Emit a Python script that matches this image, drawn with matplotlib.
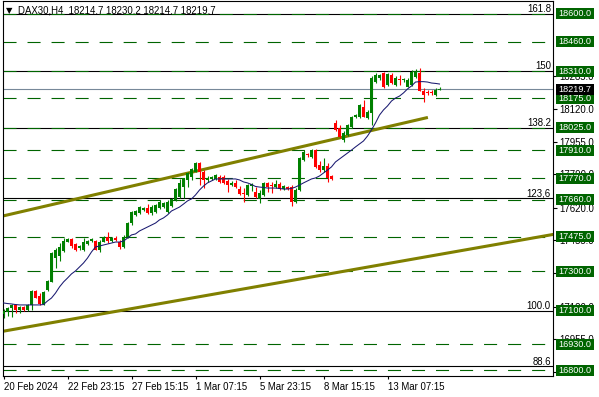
import matplotlib
matplotlib.use("Agg")
import matplotlib.pyplot as plt
import matplotlib.transforms as mtransforms
from matplotlib.patches import Rectangle
import numpy as np

plt.rcParams['font.family'] = ['Liberation Sans', 'DejaVu Sans']
plt.rcParams['lines.scale_dashes'] = False

# DAX30 H4 candles, bar 0 = 20 Feb 2024
opens = [17083, 17095, 17115, 17129, 17103, 17119, 17103, 17129, 17200, 17176,
         17132, 17205, 17247, 17366, 17376, 17402, 17449, 17462, 17436, 17418,
         17407, 17437, 17452, 17454, 17407, 17449, 17473, 17452, 17465, 17447,
         17422, 17473, 17543, 17584, 17595, 17609, 17621, 17594, 17600, 17619,
         17626, 17600, 17629, 17660, 17676, 17725, 17761, 17777, 17803, 17847,
         17801, 17761, 17766, 17766, 17777, 17776, 17756, 17735, 17747, 17717,
         17697, 17685, 17730, 17702, 17663, 17685, 17744, 17733, 17727, 17739,
         17714, 17727, 17725, 17651, 17710, 17862, 17892, 17879, 17912, 17837,
         17811, 17832, 17781, 18049, 18024, 17963, 17988, 18029, 18079, 18079,
         18131, 18074, 18098, 18258, 18275, 18300, 18241, 18292, 18241, 18269,
         18264, 18232, 18241, 18280, 18303, 18212, 18208, 18206, 18190, 18214.7]
highs = [17108, 17120, 17132, 17134, 17124, 17124, 17134, 17205, 17205, 17189,
         17200, 17255, 17397, 17417, 17442, 17467, 17467, 17467, 17442, 17432,
         17467, 17457, 17466, 17457, 17457, 17478, 17498, 17467, 17478, 17457,
         17483, 17548, 17604, 17609, 17629, 17624, 17639, 17634, 17639, 17660,
         17650, 17660, 17670, 17720, 17766, 17771, 17801, 17821, 17852, 17852,
         17811, 17781, 17781, 17791, 17786, 17786, 17766, 17756, 17761, 17730,
         17720, 17741, 17746, 17727, 17710, 17752, 17752, 17752, 17761, 17752,
         17735, 17730, 17735, 17720, 17877, 17912, 17897, 17918, 17918, 17857,
         17872, 17847, 17786, 18064, 18039, 18009, 18044, 18084, 18094, 18145,
         18165, 18115, 18287, 18302, 18297, 18307, 18302, 18302, 18287, 18292,
         18276, 18276, 18317, 18322, 18327, 18226, 18216, 18216, 18226, 18230.2]
lows = [17063, 17075, 17070, 17088, 17088, 17098, 17098, 17103, 17164, 17129,
        17129, 17200, 17245, 17316, 17351, 17397, 17447, 17417, 17404, 17407,
        17402, 17432, 17449, 17407, 17397, 17447, 17442, 17447, 17452, 17412,
        17417, 17467, 17533, 17579, 17589, 17604, 17589, 17584, 17594, 17614,
        17619, 17594, 17624, 17652, 17670, 17670, 17725, 17761, 17801, 17735,
        17720, 17751, 17761, 17761, 17746, 17741, 17702, 17730, 17720, 17685,
        17651, 17680, 17705, 17668, 17643, 17681, 17702, 17697, 17719, 17710,
        17710, 17710, 17629, 17644, 17705, 17857, 17877, 17872, 17821, 17801,
        17801, 17751, 17761, 18009, 17973, 17953, 17983, 18024, 18074, 18074,
        18077, 18069, 18039, 18251, 18266, 18226, 18236, 18246, 18236, 18241,
        18256, 18231, 18236, 18276, 18211, 18157, 18190, 18190, 18185, 18214.7]
closes = [17098, 17115, 17129, 17103, 17119, 17103, 17129, 17200, 17166, 17132,
          17196, 17250, 17390, 17407, 17422, 17452, 17462, 17429, 17407, 17427,
          17449, 17452, 17462, 17407, 17449, 17471, 17452, 17465, 17455, 17422,
          17474, 17543, 17599, 17604, 17622, 17619, 17595, 17626, 17634, 17651,
          17644, 17651, 17665, 17715, 17746, 17771, 17796, 17816, 17847, 17801,
          17761, 17771, 17776, 17786, 17752, 17746, 17735, 17747, 17727, 17690,
          17692, 17735, 17741, 17676, 17697, 17744, 17727, 17728, 17739, 17714,
          17732, 17714, 17651, 17710, 17870, 17902, 17885, 17912, 17828, 17811,
          17832, 17771, 17764, 18014, 17978, 17998, 18039, 18079, 18089, 18140,
          18081, 18105, 18275, 18292, 18292, 18232, 18297, 18250, 18275, 18264,
          18269, 18266, 18308, 18308, 18212, 18190, 18203, 18201, 18216, 18219.7]
ma_values = [17139, 17136, 17134, 17131, 17129, 17129, 17129, 17129, 17129, 17129,
             17131, 17149, 17164, 17189, 17220, 17245, 17265, 17286, 17301, 17321,
             17341, 17366, 17397, 17422, 17427, 17432, 17437, 17442, 17447, 17447,
             17452, 17467, 17483, 17488, 17503, 17513, 17523, 17533, 17543, 17559,
             17569, 17584, 17604, 17614, 17624, 17639, 17655, 17665, 17685, 17710,
             17730, 17746, 17756, 17766, 17766, 17766, 17766, 17766, 17766, 17761,
             17751, 17746, 17738, 17728, 17725, 17723, 17720, 17720, 17720, 17718,
             17715, 17715, 17718, 17725, 17735, 17746, 17756, 17766, 17771, 17781,
             17796, 17811, 17827, 17852, 17867, 17882, 17897, 17912, 17928, 17943,
             17958, 17983, 18014, 18049, 18089, 18115, 18135, 18160, 18175, 18185,
             18201, 18221, 18236, 18256, 18258, 18258, 18256, 18251, 18249, 18246]

level_prices = [18600, 18460, 18310, 18175, 18025, 17910, 17770, 17660,
                17475, 17300, 17100, 16930, 16800]
fib_names = ["161.8", "150", "138.2", "123,6", "100.0", "88.6"]
fib_prices = [18600, 18312, 18024, 17670, 17100, 16818]
scale_ticks = [18285, 18120, 17955, 17790, 17620, 17455, 17290, 17120, 16955, 16790]
date_ticks = [0, 16, 32, 48, 64, 80, 96]
date_labels = ["20 Feb 2024", "22 Feb 23:15", "27 Feb 15:15", "1 Mar 07:15",
               "5 Mar 23:15", "8 Mar 15:15", "13 Mar 07:15"]
upper_trend_x = [-0.1, 106.1]
upper_trend_y = [17579, 18077]
lower_trend_x = [-0.1, 106.1]
lower_trend_y = [16996, 17374]
last_price = 18219.7
header = "DAX30,H4  18214.7 18230.2 18214.7 18219.7"

W, H = 599, 397
fig = plt.figure(figsize=(W / 100, H / 100), dpi=100)
ax = fig.add_axes([3 / W, (H - 376) / H, 550 / W, 375 / H])
ax.set_xlim(-0.125, 137.375)
ax.set_ylim(16769.7, 18665.7)
px_per_price = 375 / (18665.7 - 16769.7)

fs = 6.9
box_fs = 6.6
green = '#006400'

# fibo levels
for name, p in zip(fib_names, fib_prices):
    ax.axhline(p, color='black', lw=0.8, zorder=1)
    ax.annotate(name, xy=(1, p), xycoords=ax.get_yaxis_transform(),
                xytext=(-1.5, 1.2), textcoords='offset points',
                ha='right', va='baseline', fontsize=fs, color='black')

# horizontal levels (17100 sits under the 100.0 fibo line)
for p in level_prices:
    if p == fib_prices[4]:
        continue
    ax.axhline(p, color=green, lw=0.8, linestyle=(0, (9.4, 7.9)), zorder=1.5)

ax.axhline(last_price, color='#778899', lw=0.8, zorder=1.6)

# trend lines
ax.plot(upper_trend_x, upper_trend_y, color='#808000', lw=2.2, zorder=2,
        solid_capstyle='butt')
ax.axline((lower_trend_x[0], lower_trend_y[0]), (lower_trend_x[1], lower_trend_y[1]),
          color='#808000', lw=2.2, zorder=2)

# candles
idx = np.arange(len(closes))
o = np.array(opens); c = np.array(closes)
hi = np.array(highs); lo = np.array(lows)
cols = np.where(c >= o, '#008000', '#ff0000')
ax.vlines(idx, lo, hi, colors=cols, lw=0.8, zorder=3)
body_h = np.maximum(np.abs(c - o), 1.0 / px_per_price)
ax.bar(idx, body_h, bottom=np.minimum(o, c), width=0.78, color=cols, lw=0, zorder=3)

ax.plot(idx, ma_values, color='#191970', lw=0.75, zorder=4)

# axes look
for s in ax.spines.values():
    s.set_linewidth(0.8)
    s.set_color('black')
ax.yaxis.tick_right()
ax.set_yticks(scale_ticks)
ax.set_yticklabels([f"{t:.1f}" for t in scale_ticks])
ax.tick_params(axis='y', length=3, width=0.8, pad=1.5, labelsize=fs, direction='out')
ax.set_xticks(date_ticks)
ax.set_xticklabels(date_labels, ha='left')
ax.tick_params(axis='x', length=2.5, width=0.8, pad=1.5, labelsize=fs, direction='out')

# price boxes on the right scale
trans = mtransforms.blended_transform_factory(ax.transAxes, ax.transData)
bx0 = (556 - 3) / 550
bw = 38 / 550
bh = 11 / px_per_price
for p in level_prices:
    ax.add_patch(Rectangle((bx0, p - bh / 2), bw, bh, transform=trans,
                           facecolor=green, edgecolor='none', clip_on=False, zorder=6))
    ax.text(bx0 + bw / 2, p, f"{p:.1f}", transform=trans, ha='center', va='center',
            color='white', fontsize=box_fs, clip_on=False, zorder=7)
ax.add_patch(Rectangle((bx0, last_price - bh / 2), bw, bh, transform=trans,
                       facecolor='black', edgecolor='none', clip_on=False, zorder=6))
ax.text(bx0 + bw / 2, last_price, f"{last_price:.1f}", transform=trans, ha='center',
        va='center', color='white', fontsize=box_fs, clip_on=False, zorder=7)

# header
fig.text(6 / W, 1 - 13 / H, "\u25bc", fontsize=6, family='DejaVu Sans', va='baseline')
fig.text(18 / W, 1 - 13.5 / H, header, fontsize=fs, va='baseline', color='black')

fig.savefig("out.png", dpi=100, facecolor='white')
